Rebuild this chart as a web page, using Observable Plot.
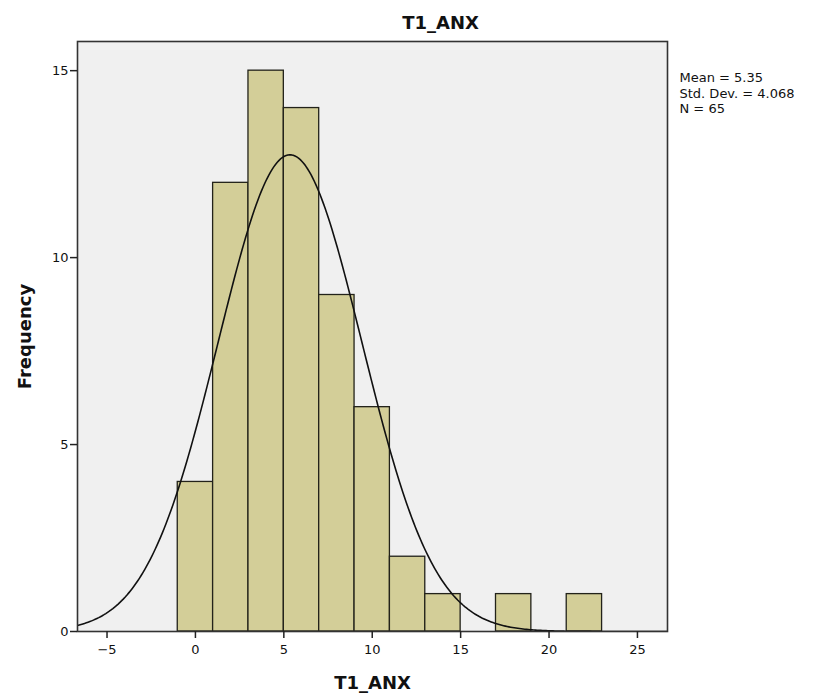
<!DOCTYPE html>
<html>
<head>
<meta charset="utf-8">
<script src="https://cdn.jsdelivr.net/npm/d3@7"></script>
<script src="https://cdn.jsdelivr.net/npm/@observablehq/plot@0.6"></script>
<style>
  body { margin: 0; background: #fff; }
  svg { font-family: "DejaVu Sans", sans-serif; }
</style>
</head>
<body>
<div id="chart"></div>
<script>
// Histogram bins (lower edge, upper edge) and counts
const binStart = [-1, 1, 3, 5, 7, 9, 11, 13, 15, 17, 19, 21];
const binEnd   = [ 1, 3, 5, 7, 9, 11, 13, 15, 17, 19, 21, 23];
const counts   = [ 4, 12, 15, 14, 9, 6, 2, 1, 0, 1, 0, 1];
// Summary statistics shown in the legend
const statLabels = ["Mean", "Std. Dev.", "N"];
const statValues = [5.35, 4.068, 65];
const xTicks = [-5, 0, 5, 10, 15, 20, 25];
const yTicks = [0, 5, 10, 15];

const bars = binStart.map((s, i) => ({x1: s, x2: binEnd[i], y: counts[i]})).filter(d => d.y > 0);

const mean = statValues[0], sd = statValues[1], n = statValues[2];
const binWidth = binEnd[0] - binStart[0];
const xDomain = [-6.67, 26.7];
const curve = d3.range(xDomain[0], xDomain[1] + 0.05, 0.1).map(x => ({
  x,
  y: n * binWidth / (sd * Math.sqrt(2 * Math.PI)) * Math.exp(-0.5 * ((x - mean) / sd) ** 2)
}));

const statText = statLabels.map((l, i) => `${l} = ${statValues[i]}`).join("\n");

const chart = Plot.plot({
  width: 815,
  height: 700,
  marginLeft: 77,
  marginRight: 148,
  marginTop: 41,
  marginBottom: 69,
  style: {fontFamily: "DejaVu Sans, sans-serif", fontSize: "13px", color: "#111"},
  x: {domain: xDomain, ticks: xTicks, label: null},
  y: {domain: [0, 15.78], ticks: yTicks, label: null},
  marks: [
    Plot.frame({fill: "#f0f0f0", stroke: "none"}),
    Plot.rectY(bars, {x1: "x1", x2: "x2", y: "y", fill: "#d3ce98", stroke: "#22221a", strokeWidth: 1.3, insetLeft: 0, insetRight: 0}),
    Plot.line(curve, {x: "x", y: "y", stroke: "#111", strokeWidth: 1.6, clip: true}),
    Plot.frame({stroke: "#333", strokeWidth: 1.6}),
    Plot.axisX({ticks: xTicks, tickSize: 7, tickPadding: 6, fontSize: 13, label: null, stroke: "#222", strokeWidth: 1.5}),
    Plot.axisY({ticks: yTicks, tickSize: 7, tickPadding: 2, fontSize: 13, label: null, stroke: "#222", strokeWidth: 1.5}),
    Plot.text([statText], {frameAnchor: "top-right", dx: 12, dy: 30, textAnchor: "start", lineAnchor: "top", lineHeight: 1.18, fontSize: 13, fill: "#111"}),
    Plot.text(["T1_ANX"], {frameAnchor: "top", dx: 68, dy: -25, fontSize: 18, fontWeight: "bold", fill: "#111"}),
    Plot.text(["T1_ANX"], {frameAnchor: "bottom", dy: 57, fontSize: 18, fontWeight: "bold", fill: "#111"}),
    Plot.text(["Frequency"], {frameAnchor: "left", textAnchor: "middle", dx: -52, rotate: -90, fontSize: 18, fontWeight: "bold", fill: "#111"})
  ]
});
document.getElementById("chart").appendChild(chart);
</script>
</body>
</html>
